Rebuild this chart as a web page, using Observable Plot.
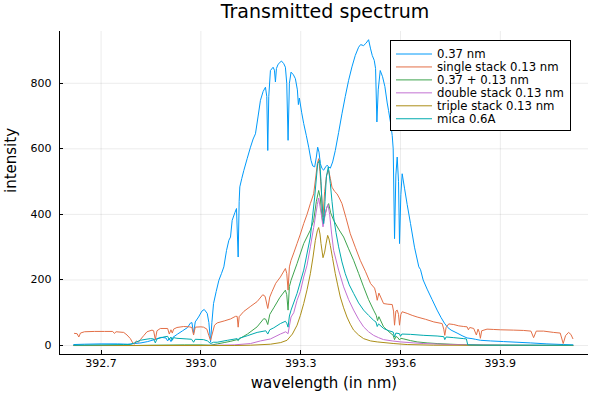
<!DOCTYPE html>
<html><head><meta charset="utf-8">
<script src="https://cdn.jsdelivr.net/npm/d3@7"></script>
<script src="https://cdn.jsdelivr.net/npm/@observablehq/plot@0.6"></script>
<style>body{margin:0;background:#fff;font-family:"DejaVu Sans",sans-serif} svg{display:block}</style>
</head><body><div id="chart"></div>
<script>
const seriesNames = ["0.37 nm","single stack 0.13 nm","0.37 + 0.13 nm","double stack 0.13 nm","triple stack 0.13 nm","mica 0.6A"];
const seriesColors = ["#009AFA","#E36F47","#3EA44E","#C371D2","#AC8E18","#00AAAE"];
const xTicks = [392.7, 393.0, 393.3, 393.6, 393.9];
const yTicks = [0, 200, 400, 600, 800];

// [wavelength nm, intensity]
const s037 = [[392.618,3],[392.65,4],[392.70,5],[392.75,5],[392.78,4],[392.80,6],[392.82,8],[392.84,12],[392.86,18],[392.868,21],[392.88,25],[392.895,23],[392.900,14],[392.905,22],[392.910,12],[392.916,25],[392.93,35],[392.945,45],[392.96,55],[392.968,68],[392.973,70],[392.978,37],[392.983,72],[392.993,87],[393.003,105],[393.010,110],[393.019,98],[393.024,70],[393.029,10],[393.033,70],[393.038,128],[393.046,165],[393.054,199],[393.062,220],[393.069,240],[393.077,290],[393.084,321],[393.089,331],[393.094,382],[393.102,405],[393.107,418],[393.112,270],[393.115,440],[393.117,484],[393.123,510],[393.129,534],[393.139,570],[393.149,605],[393.157,630],[393.164,646],[393.172,700],[393.179,748],[393.187,775],[393.194,788],[393.198,760],[393.201,595],[393.204,760],[393.209,839],[393.217,849],[393.221,840],[393.224,804],[393.227,845],[393.232,858],[393.242,868],[393.249,860],[393.254,849],[393.258,800],[393.262,626],[393.266,800],[393.271,834],[393.278,826],[393.284,814],[393.290,780],[393.293,735],[393.296,755],[393.303,710],[393.309,677],[393.317,640],[393.324,605],[393.331,565],[393.336,548],[393.342,545],[393.347,575],[393.351,605],[393.355,590],[393.359,555],[393.364,540],[393.369,535],[393.375,545],[393.379,550],[393.384,545],[393.389,541],[393.396,560],[393.404,595],[393.414,650],[393.424,707],[393.434,760],[393.444,809],[393.454,850],[393.464,885],[393.474,910],[393.480,918],[393.489,915],[393.496,922],[393.504,933],[393.510,905],[393.515,885],[393.521,870],[393.525,845],[393.529,682],[393.533,780],[393.539,839],[393.546,820],[393.553,790],[393.560,740],[393.564,717],[393.570,680],[393.575,641],[393.578,600],[393.582,326],[393.586,520],[393.590,575],[393.594,500],[393.597,311],[393.601,460],[393.605,524],[393.612,480],[393.620,430],[393.630,372],[393.642,300],[393.655,240],[393.660,232],[393.668,200],[393.680,172],[393.695,140],[393.710,108],[393.722,85],[393.732,68],[393.742,55],[393.752,47],[393.770,38],[393.785,30],[393.800,23],[393.815,21],[393.825,19],[393.840,16],[393.870,14],[393.910,12],[393.950,10],[393.990,8],[394.040,5],[394.090,3],[394.118,2]];

const sSingle = [[392.620,37],[392.628,36],[392.633,26],[392.638,38],[392.650,42],[392.680,43],[392.710,43],[392.735,43],[392.740,37],[392.745,42],[392.768,40],[392.778,32],[392.788,21],[392.795,8],[392.800,4],[392.806,14],[392.812,10],[392.818,18],[392.828,30],[392.838,42],[392.853,47],[392.858,45],[392.863,18],[392.868,45],[392.878,52],[392.900,52],[392.905,35],[392.910,48],[392.914,38],[392.918,50],[392.928,55],[392.948,58],[392.965,57],[392.973,55],[392.978,32],[392.983,56],[393.000,57],[393.008,56],[393.018,50],[393.024,30],[393.029,16],[393.034,35],[393.041,62],[393.049,69],[393.070,75],[393.089,81],[393.104,89],[393.109,89],[393.112,56],[393.115,88],[393.129,104],[393.150,120],[393.169,134],[393.186,155],[393.193,150],[393.201,113],[393.207,148],[393.214,165],[393.225,190],[393.239,209],[393.254,235],[393.258,220],[393.262,169],[393.266,240],[393.271,260],[393.280,285],[393.289,311],[393.299,340],[393.309,372],[393.319,400],[393.329,433],[393.339,463],[393.346,520],[393.350,555],[393.354,570],[393.358,530],[393.361,488],[393.367,392],[393.372,470],[393.378,520],[393.384,534],[393.389,510],[393.394,483],[393.402,470],[393.409,463],[393.416,450],[393.424,433],[393.436,390],[393.449,341],[393.464,300],[393.479,260],[393.495,225],[393.510,189],[393.522,175],[393.526,160],[393.530,138],[393.535,160],[393.549,128],[393.562,126],[393.575,125],[393.579,105],[393.582,62],[393.586,105],[393.590,108],[393.594,95],[393.597,62],[393.601,95],[393.605,103],[393.620,98],[393.635,92],[393.650,87],[393.675,80],[393.700,72],[393.725,67],[393.730,50],[393.733,31],[393.737,55],[393.745,66],[393.760,64],[393.775,60],[393.790,58],[393.800,57],[393.804,48],[393.808,55],[393.820,52],[393.828,32],[393.833,50],[393.837,40],[393.840,22],[393.844,45],[393.860,50],[393.880,49],[393.900,48],[393.940,47],[393.970,46],[393.992,44],[394.000,24],[394.008,44],[394.030,44],[394.060,40],[394.080,38],[394.089,6],[394.096,30],[394.105,40],[394.112,34],[394.118,21]];

const sCombo = [[392.618,0],[392.80,0],[392.85,1],[392.95,2],[393.00,2],[393.029,1],[393.05,5],[393.07,9],[393.09,13],[393.109,18],[393.112,15],[393.115,20],[393.14,35],[393.169,57],[393.189,82],[393.195,80],[393.201,64],[393.207,95],[393.219,115],[393.237,146],[393.254,169],[393.258,155],[393.262,108],[393.266,180],[393.271,199],[393.289,250],[393.309,311],[393.329,352],[393.339,382],[393.347,440],[393.354,473],[393.359,450],[393.363,400],[393.367,372],[393.372,395],[393.378,420],[393.384,433],[393.390,405],[393.399,382],[393.414,355],[393.429,331],[393.444,295],[393.459,260],[393.474,220],[393.489,179],[393.504,140],[393.519,108],[393.527,92],[393.531,76],[393.535,88],[393.549,57],[393.565,42],[393.578,31],[393.582,18],[393.586,28],[393.592,24],[393.597,17],[393.601,22],[393.610,20],[393.630,15],[393.650,11],[393.680,8],[393.710,6],[393.750,4],[393.800,2],[393.900,1],[394.118,0]];

const sDouble = [[392.618,0],[393.00,0],[393.10,2],[393.149,6],[393.179,14],[393.209,20],[393.239,35],[393.255,42],[393.262,36],[393.266,60],[393.271,87],[393.279,100],[393.289,138],[393.299,165],[393.309,209],[393.319,245],[393.329,301],[393.339,360],[393.344,392],[393.350,430],[393.354,450],[393.358,425],[393.362,400],[393.367,362],[393.372,390],[393.378,420],[393.382,430],[393.387,400],[393.393,340],[393.399,290],[393.414,230],[393.429,179],[393.444,140],[393.459,108],[393.474,80],[393.489,57],[393.504,42],[393.519,31],[393.534,24],[393.549,18],[393.575,14],[393.600,11],[393.640,8],[393.670,6],[393.720,4],[393.800,2],[393.900,1],[394.118,0]];

const sTriple = [[392.618,0],[393.100,0],[393.150,1],[393.209,4],[393.240,9],[393.259,16],[393.275,35],[393.289,62],[393.299,92],[393.309,128],[393.319,170],[393.329,219],[393.337,270],[393.344,321],[393.350,350],[393.354,360],[393.358,340],[393.361,311],[393.367,268],[393.372,285],[393.376,310],[393.381,336],[393.385,325],[393.389,305],[393.396,265],[393.404,219],[393.411,185],[393.419,148],[393.429,115],[393.439,87],[393.449,65],[393.459,47],[393.474,32],[393.489,21],[393.510,14],[393.530,11],[393.580,6],[393.620,3],[393.700,1],[394.118,0]];

const sMica = [[392.618,1],[392.700,2],[392.768,3],[392.788,3],[392.800,8],[392.818,16],[392.835,19],[392.848,21],[392.858,20],[392.863,8],[392.868,20],[392.888,26],[392.900,28],[392.905,18],[392.910,26],[392.914,16],[392.918,24],[392.928,22],[392.958,20],[392.972,19],[392.978,10],[392.983,19],[393.008,18],[393.020,14],[393.029,6],[393.038,10],[393.049,10],[393.080,16],[393.109,21],[393.112,16],[393.115,22],[393.140,30],[393.169,40],[393.195,45],[393.201,35],[393.207,48],[393.219,54],[393.239,67],[393.254,74],[393.258,68],[393.262,56],[393.266,90],[393.271,108],[393.289,159],[393.309,230],[393.329,331],[393.342,453],[393.351,555],[393.357,565],[393.361,500],[393.364,433],[393.369,372],[393.373,440],[393.377,514],[393.383,545],[393.389,494],[393.394,440],[393.399,392],[393.406,345],[393.414,301],[393.424,255],[393.434,219],[393.446,185],[393.459,159],[393.474,130],[393.489,108],[393.504,92],[393.519,77],[393.526,72],[393.530,58],[393.534,66],[393.549,52],[393.565,45],[393.578,41],[393.582,26],[393.586,38],[393.597,36],[393.600,28],[393.604,35],[393.630,34],[393.670,31],[393.710,29],[393.730,27],[393.733,18],[393.737,26],[393.760,24],[393.790,21],[393.798,20],[393.802,2],[393.850,1],[394.118,1]];

const allSeries = [s037, sSingle, sCombo, sDouble, sTriple, sMica];

const W = 601, H = 398;
const xDomain = [392.575, 394.165];
const yDomain = [-27.4, 958];
const font = "DejaVu Sans";

const lineMarks = allSeries.map((s, i) =>
  Plot.line(s, {x: d => d[0], y: d => d[1], stroke: seriesColors[i], strokeWidth: 1})
);

const plot = Plot.plot({
  width: W, height: H,
  marginLeft: 59, marginRight: 13, marginTop: 31, marginBottom: 44,
  style: {fontFamily: font, background: "#fff", color: "#000"},
  x: {domain: xDomain, label: null},
  y: {domain: yDomain, label: null},
  marks: [
    Plot.gridX(xTicks, {stroke: "#000", strokeOpacity: 0.08, strokeWidth: 1}),
    Plot.gridY(yTicks, {stroke: "#000", strokeOpacity: 0.08, strokeWidth: 1}),
    Plot.axisX(xTicks, {tickSize: 0, tickPadding: 5, tickFormat: d3.format(".1f"), fontSize: 11, fill: "#000", label: null}),
    Plot.axisY(yTicks, {tickSize: 0, tickPadding: 8, tickFormat: d3.format("d"), fontSize: 11, fill: "#000", label: null}),
    ...lineMarks,
    Plot.ruleX([xDomain[0]], {stroke: "#000", strokeWidth: 1}),
    Plot.ruleY([yDomain[0]], {stroke: "#000", strokeWidth: 1}),
    Plot.text(["Transmitted spectrum"], {frameAnchor: "top", lineAnchor: "bottom", dy: -13.5, dx: 1, fontSize: 19, fill: "#000", letterSpacing: "0.4px"}),
    Plot.text(["wavelength (in nm)"], {frameAnchor: "bottom", lineAnchor: "bottom", dy: 33.7, fontSize: 15, fill: "#000", letterSpacing: "0.55px"}),
    Plot.text(["intensity"], {frameAnchor: "left", lineAnchor: "bottom", rotate: -90, dx: -43.5, fontSize: 15, fill: "#000", letterSpacing: "0.4px"})
  ]
});

// inward ticks via the plot's scales
const sx = plot.scale("x"), sy = plot.scale("y");
const svg = d3.select(plot);
const gT = svg.append("g").attr("stroke", "#000").attr("stroke-width", 1);
const x0 = sx.apply(xDomain[0]), y0 = sy.apply(yDomain[0]);
xTicks.forEach(t => { const x = Math.round(sx.apply(t)) + 0.5; gT.append("line").attr("x1", x).attr("x2", x).attr("y1", y0).attr("y2", y0 - 4); });
yTicks.forEach(t => { const y = Math.round(sy.apply(t)) + 0.5; gT.append("line").attr("x1", x0).attr("x2", x0 + 4).attr("y1", y).attr("y2", y); });

// legend
const lg = svg.append("g").attr("font-family", font).attr("font-size", 11.7).attr("text-anchor", "start");
const bx = 390.5, by = 40.5, bw = 180, bh = 90;
lg.append("rect").attr("x", bx).attr("y", by).attr("width", bw).attr("height", bh).attr("fill", "#fff").attr("stroke", "#000").attr("stroke-width", 1);
seriesNames.forEach((n, i) => {
  const yy = 54 + i * 12.95;
  lg.append("line").attr("x1", 396).attr("x2", 432).attr("y1", yy).attr("y2", yy).attr("stroke", seriesColors[i]).attr("stroke-width", 1);
  lg.append("text").attr("x", 437).attr("y", yy).attr("dy", "0.36em").attr("text-anchor", "start").attr("fill", "#000").text(n);
});

document.getElementById("chart").appendChild(plot);
</script>
</body></html>
